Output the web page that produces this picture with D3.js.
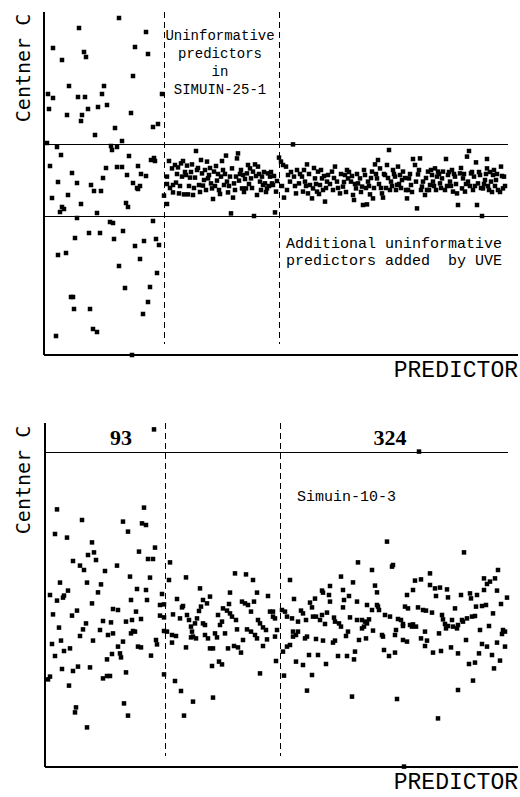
<!DOCTYPE html>
<html>
<head>
<meta charset="utf-8">
<script src="https://cdn.jsdelivr.net/npm/d3@7/dist/d3.min.js"></script>
<style>
	body { margin: 0; background: #fff; }
	text { fill: #000; }
	line { shape-rendering: crispEdges; }
</style>
</head>
<body>
<svg id="chart" width="520" height="797"></svg>
<script>

// predictor index vs Centner c (arbitrary units)

// SIMUIN-25-1 : informative predictors
var topInformative = [[3,18.5],[4,43],[5,35.5],[6,7],[8,-9],[9,66],[9,41],[12,-78],[13,16.5],[14,-1],[14,-37.5],[16,-16],[17,12.5],[18,60],[18,-13.5],[20,-14.5],[22,-36.5],[23,32.5],[24,-7.5],[25,47],[27,-58.5],[28,3.5],[29,-58.5],[30,-64.5],[31,-29],[33,-1.5],[33,-19],[34,41.5],[35,76],[37,-12],[37,29.5],[38,32.5],[40,64],[41,41.5],[42,61.5],[44,35.5],[45,-26.5],[46,-64.5],[47,-2.5],[49,-74.5],[50,-5.5],[51,22.5],[53,-16.5],[53,-76],[54,36.5],[56,-26.5],[57,-5.5],[58,43],[59,1],[60,47],[62,6],[63,37.5],[66,-21],[67,17],[68,15],[69,-21.5],[70,-29.5],[71,26],[73,16.5],[73,6.5],[75,81],[75,-43],[78,19.5],[78,6.5],[79,-25.5],[81,-54],[82,-11.5],[83,2.5],[84,-13.5],[85,12],[87,33.5],[88,-87.5],[89,52],[89,-1.5],[91,66.5],[91,-33],[93,-4],[94,7],[94,-4.5],[96,-3],[96,-39.5],[97,3],[99,-67],[100,-30.5],[102,74],[102,2],[104,63],[104,-61],[106,-53.5],[107,10],[109,26.5],[109,-20.5],[110,11],[111,9.5],[112,-29.5],[113,-46.5],[114,28],[115,-32.5],[118,43]];

// SIMUIN-25-1 : uninformative predictors
var topUninformative = [[120,-7.8],[123,-12],[123,1.7],[123,-2],[125,9.5],[128,5.8],[129,-2.5],[129,-6.2],[131,7.5],[132,-1.3],[134,6.3],[135,-6.7],[137,8.3],[138,1.7],[139,9.5],[140,-7.2],[142,2.5],[143,7.2],[144,-7.2],[146,1.2],[148,7.8],[149,-7.5],[151,1.2],[152,14.5],[153,5],[155,-2.5],[157,10],[158,3.3],[159,-2.8],[161,5],[163,9.2],[164,0.8],[165,2.5],[167,-1.7],[168,-4.2],[169,-9.5],[170,4.2],[172,7],[173,-0.3],[175,-5],[177,1.7],[178,9.5],[179,5],[180,-2.5],[182,12.2],[183,-0.8],[184,-6.2],[186,1.7],[187,-16.7],[188,5.8],[189,-8.8],[190,-1.7],[192,1.7],[193,10.8],[194,13.3],[195,-0.3],[197,5],[198,-4.2],[199,2.5],[201,0.5],[202,-4.2],[203,3.3],[204,7.5],[206,5.8],[207,0.8],[209,4.2],[210,-18],[211,7.8],[213,-7.5],[214,6.7],[216,-0.8],[218,1.7],[219,-2.5],[221,-1.7],[223,-4.2],[224,3.3],[226,1.7],[228,-1.7],[229,-2.5],[231,-16.2],[232,-5.8],[233,-0.5],
	[126,-4],[133,3],[136,-3],[141,4],[145,-3],[147,4],[150,-4],[154,6],[156,-6],[160,0],[162,-5],[166,6],[171,-3],[174,3],[176,-7],[181,3],[185,-3],[191,-5],[196,3],[200,-6],[205,-2],[208,-4],[212,2],[215,3],[217,-5],[220,4],[222,-6],[225,-3],[227,4],[230,2]];

// SIMUIN-25-1 : added by UVE
var topAdded = [[235,11.2],[237,9.2],[239,7.5],[240,-8.8],[242,6.7],[244,2.5],[246,-0.8],[249,17.8],[250,1.7],[252,-6.7],[253,5],[255,-1.7],[258,1.7],[259,-5.8],[261,-0.8],[263,7.8],[264,-6.7],[266,-2.5],[268,-9.2],[269,-4.2],[271,0.8],[273,-5.8],[274,4.2],[276,-2.5],[278,0.8],[279,-5],[281,-10.8],[283,-0.8],[284,2.5],
	[288,4.2],[289,-5],[291,6.7],[293,-0.8],[296,-6.7],[299,-3.3],[301,2.5],[303,5],[304,0.8],[307,-0.8],[309,-7.5],[310,-10],[312,-4.2],[314,-1.7],[316,0.8],[318,-3.3],[319,-12.5],[321,2.5],[323,-12.2],[324,-0.8],[326,-7.2],[328,4.2],[329,-9.2],[331,7.8],[333,0.8],[334,10],[336,5.8],[338,-6.7],[339,-8.8],[341,2.5],[343,7.5],[345,15],[347,-0.8],[349,5],[351,1.7],[353,-2.5],[354,6.7],[356,2.5],[358,0],[359,4.2],[362,-5],[363,-9.2],[365,0.8],[367,-2.5],[369,10.5],[371,7.5],[372,-0.8],[373,-14.2],[374,2.8],[376,10.8],[378,-3.3],[379,-0.8],[381,-7.5],[383,-5],[384,4.2],[386,-2.5],[388,2.5],[389,-0.8],[391,5.8],[393,1.7],[394,4.2],[396,-1.7],[398,0.8],[399,4.2],[401,-5],[402,10.5],[404,2.5],[406,-0.8],[408,5],[409,-5.8],[411,1.7],[413,-6.7],[414,-12.5],[416,3.3],[418,-4.2],[419,0.8],[421,-5.8],[423,11.7],[424,-0.8],[425,14.5],[427,3.3],[429,-5],[430,1.7],[432,8.8],[433,-12.5],[434,-1.7],[436,2.5],[438,-18],[439,-4.2],[441,0],[443,10.5],[443,5.8],[445,-5],[447,-0.8],[449,2.5],[450,5],[452,0],[454,-5],[457,6.7],[459,-4.2],[460,1.7],
	[238,-3],[243,-5],[247,4],[251,-3],[256,3],[260,5],[262,-3],[265,3],[270,6],[272,-2],[275,-7],[277,5],[280,2],[282,-4],[286,-2],[290,1],[294,-4],[297,3],[300,-1],[302,-6],[305,4],[308,2],[311,-2],[313,3],[317,-6],[320,5],[322,-4],[325,-3],[327,1],[330,-4],[332,3],[335,-2],[337,-4],[340,3],[342,-4],[344,1],[346,-5],[348,-3],[350,3],[352,-5],[355,-2],[357,-4],[361,1],[364,-5],[366,3],[368,-6],[375,5],[377,-5],[382,1],[385,-5],[387,5],[390,-3],[392,-5],[395,3],[397,-4],[403,-3],[405,4],[407,-3],[410,3],[412,-2],[417,6],[420,3],[422,-2],[426,-3],[428,4],[431,-3],[435,4],[437,-4],[440,-2],[442,3],[444,-3],[446,4],[448,-6],[451,-3],[453,3],[456,-6],[458,2],[461,-3]];

// Simuin-10-3 : three predictor groups
var bottomInformative = [[109,100.3],[12,60.3],[99,61.2],[37,55],[78,54.2],[97,53.3],[101,52.5],[10,48],[22,46.2],[83,49.2],[47,43.8],[110,41.2],[49,38.8],[43,37.5],[94,39.2],[28,34.5],[51,35],[103,35.5],[108,35.5],[35,32.2],[39,30],[72,32.2],[60,29.5],[15,23.7],[42,23.7],[56,22.8],[85,26.7],[105,26.2],[23,19.7],[19,17.2],[18,16.2],[5,17.5],[12,14.7],[92,20.5],[101,20],[53,18.8],[86,15],[102,15],[117,18],[47,13.3],[68,10.5],[73,10],[32,9.7],[27,7.2],[8,7.8],[91,9.2],[115,12.5],[119,12.8],[115,7.2],[119,6.3],[41,3.3],[58,4.5],[66,3.8],[81,4.2],[87,5],[96,5.5],[14,1.2],[38,0.3],[55,0],[63,-2.5],[68,-1.7],[86,-1.7],[88,-0.5],[90,-0.8],[119,-0.5],[35,-3],[7,-7],[16,-5.3],[48,-5.3],[78,-5.8],[111,-5],[112,-7.2],[19,-10.5],[25,-9.2],[10,-13],[93,-8.3],[96,-8.7],[73,-8.3],[67,-12],[62,-14.7],[75,-11.7],[76,-13.7],[106,-12.8],[17,-19.5],[28,-20.5],[33,-18.3],[45,-18.7],[81,-21.2],[62,-23],[65,-23],[58,-24.2],[119,-22.2],[5,-23.3],[3,-24.7],[24,-27.8],[31,-38.7],[30,-41.2],[79,-36.7],[83,-42.8],[42,-48.7]];

var bottomUninformative = [[125,33.8],[124,25],[141,26.3],[155,20.8],[132,15.5],[137,11.3],[138,12],[158,15],[165,16.7],[162,13.3],[128,7.8],[135,5.8],[142,7.5],[144,5],[146,1.7],[147,-0.8],[146,-3.7],[150,3.3],[152,5.8],[154,9.5],[156,11.7],[158,3.3],[160,2.5],[173,7.5],[178,10.8],[182,9.7],[185,8.3],[185,18.7],[184,13],[187,6.7],[190,28.3],[201,27.8],[208,25],[197,14.2],[200,13.3],[203,12.5],[209,14.2],[206,9.2],[212,18.7],[223,17],[191,5],[177,4.2],[175,2.5],[170,-1.7],[172,-3.7],[180,-1.7],[163,-4.2],[168,-9.2],[160,-2.5],[122,-0.8],[127,-2.5],[131,-3],[127,-6.3],[141,-8.7],[148,-3.3],[151,-4.2],[165,-9.2],[183,-9.2],[189,-8],[193,-8.7],[196,-11.3],[192,0.3],[198,-5],[202,0.3],[206,-0.8],[210,-2.5],[212,-4.2],[213,5],[215,3.3],[218,1.3],[221,0],[218,-8],[222,-4.7],[225,9.2],[228,6.7],[228,9.2],[230,5.8],[230,-3.3],[232,0],[215,-21.7],[167,-18],[174,-15.8],[177,-17.2],[130,-25.5],[136,-30.5],[148,-35.8],[168,-33.8],[139,-42.8],[231,-15.5]];

var bottomAdded = [[245,25],[239,-22.8],[342,44.2],[313,33.8],[327,30],[347,31.7],[348,32.5],[296,26.7],[308,23.8],[285,22],[330,22.2],[332,18.8],[277,19.7],[278,18.7],[284,17.5],[298,20],[299,15],[304,17],[249,15.5],[265,13.7],[270,15.7],[267,11.3],[285,14.2],[312,14.2],[322,12.5],[327,10],[332,12.5],[333,11.7],[334,10],[298,11.3],[237,10],[240,9.2],[242,6.7],[247,5.8],[256,9.7],[258,8.3],[268,6.7],[271,6.7],[275,5],[277,7.5],[282,8.7],[289,6.2],[290,4.2],[280,3],[253,4.2],[261,5],[305,6.3],[312,5],[317,5],[320,4.2],[322,3.3],[317,0.8],[319,1.7],[324,5.3],[340,7.5],[345,6.7],[353,5.5],[294,3.3],[296,1.7],[303,-0.8],[301,-3],[328,-0.3],[337,-2.5],[338,-3.3],[350,-2.5],[248,-0.8],[253,-0.8],[251,-2.5],[248,-3.3],[260,-4.2],[262,-3.3],[271,-4.5],[278,-5.3],[288,-6.3],[290,-5.3],[314,-5],[321,-4.2],[242,-8.3],[245,-7.5],[238,-10.8],[339,-10],[344,-13],[350,-11.3],[310,-10.8],[309,-14.7],[293,-13],[302,-13],[264,-12.5],[273,-12.5],[251,-15.8],[258,-17.5],[281,-17],[267,-22.5],[262,-30.3],[307,-33.3],[352,-34.5],
	[419,38.8],[385,28.3],[370,24.7],[376,25.3],[453,30],[439,25.8],[442,23],[445,24.2],[450,25.8],[385,22.5],[390,20.8],[395,21.2],[402,20.3],[368,20],[439,20],[452,19.7],[362,17.5],[391,17],[403,16.3],[416,17.5],[425,18.3],[426,15.8],[432,17.5],[462,16.2],[456,13],[431,11.7],[437,12],[441,12.5],[410,10.8],[360,11.7],[363,10.8],[373,11.3],[378,10],[381,9.7],[387,8.7],[397,7.5],[448,8.3],[356,5],[358,3],[358,2],[365,2.5],[368,2.8],[371,1.7],[367,1.7],[351,0],[380,-0.8],[398,5.3],[400,3],[401,0.8],[403,2],[407,5],[408,1.7],[412,0.8],[413,2.5],[417,5],[418,4.2],[422,5.8],[427,6.7],[430,7],[435,0],[444,2],[458,0],[460,-0.8],[457,-2],[394,-1.7],[376,-4.2],[382,-5.3],[380,-8],[358,-5],[362,-5.8],[421,-5],[437,-7],[442,-8.3],[452,-6.3],[460,-8.3],[388,-11.3],[396,-10.5],[406,-8.7],[413,-11.7],[434,-11.7],[447,-12.5],[455,-15.3],[424,-17],[430,-16.3],[449,-19.2],[428,-25.3],[413,-30],[393,-44.2],[374,89.2],[359,-68.3]];

var topCutoffs = [-18, 18];
var bottomCutoffs = [89];
var regionBreaks = [120, 235];
var groupCounts = ['93', '324'];
var groupCountX = [76, 345];

var topNote = ['Uninformative', 'predictors', 'in', 'SIMUIN-25-1'];
var addedNote = ['Additional uninformative', 'predictors added  by UVE'];
var bottomNote = 'Simuin-10-3';


function drawPanel(svg, p){

	console.log('drawPanel', p.name);

	var x = d3.scaleLinear().domain(p.xDomain).range([p.left, p.right]);
	var y = d3.scaleLinear().domain(p.yDomain).range([p.bottom, p.top]);

	var g = svg.append('g').attr('class', p.name);

	// cutoff lines
	g.selectAll('.cutoff')
		.data(p.cutoffs)
		.enter().append('line')
		.attr('class', 'cutoff')
		.attr('x1', p.left).attr('x2', p.right)
		.attr('y1', function(d){ return y(d); })
		.attr('y2', function(d){ return y(d); })
		.attr('stroke', '#000')
		.attr('stroke-width', 1);

	// group boundaries
	g.selectAll('.break')
		.data(regionBreaks)
		.enter().append('line')
		.attr('class', 'break')
		.attr('x1', function(d){ return x(d); })
		.attr('x2', function(d){ return x(d); })
		.attr('y1', p.top)
		.attr('y2', p.bottom - 11)
		.attr('stroke', '#000')
		.attr('stroke-width', 1)
		.attr('stroke-dasharray', '6,4');

	// axes, no ticks
	g.append('line')
		.attr('x1', p.left).attr('x2', p.left)
		.attr('y1', p.top).attr('y2', p.bottom)
		.attr('stroke', '#000').attr('stroke-width', 2);

	g.append('line')
		.attr('x1', p.left).attr('x2', 518)
		.attr('y1', p.bottom).attr('y2', p.bottom)
		.attr('stroke', '#000').attr('stroke-width', 2);

	var size = 4.5;

	g.selectAll('.pt')
		.data(p.points)
		.enter().append('rect')
		.attr('class', 'pt')
		.attr('x', function(d){ return x(d[0]) - size / 2; })
		.attr('y', function(d){ return y(d[1]) - size / 2; })
		.attr('width', size)
		.attr('height', size)
		.attr('fill', '#000');

	g.append('text')
		.attr('transform', 'translate(30,' + p.labelY + ') rotate(-90)')
		.attr('text-anchor', 'middle')
		.style('font-family', '"DejaVu Sans Mono", monospace')
		.style('font-size', '20px')
		.text('Centner C');

	g.append('text')
		.attr('x', 518)
		.attr('y', p.bottom + 22)
		.attr('text-anchor', 'end')
		.style('font-family', '"Liberation Mono", monospace')
		.style('font-size', '23px')
		.text('PREDICTOR');

	return { x: x, y: y, g: g };
}


var svg = d3.select('#chart');

var upper = drawPanel(svg, {
	name: 'upper',
	points: topInformative.concat(topUninformative, topAdded),
	cutoffs: topCutoffs,
	xDomain: [0, 464], yDomain: [-87.5, 84],
	left: 44, right: 508, top: 12, bottom: 355,
	labelY: 68
});

var lower = drawPanel(svg, {
	name: 'lower',
	points: bottomInformative.concat(bottomUninformative, bottomAdded),
	cutoffs: bottomCutoffs,
	xDomain: [0, 463], yDomain: [-68.5, 103.5],
	left: 45, right: 508, top: 423, bottom: 767,
	labelY: 480
});

// notes on the upper panel
upper.g.selectAll('.note')
	.data(topNote)
	.enter().append('text')
	.attr('class', 'note')
	.attr('x', 220)
	.attr('y', function(d, i){ return 40 + i * 18; })
	.attr('text-anchor', 'middle')
	.style('font-family', '"Liberation Mono", monospace')
	.style('font-size', '14px')
	.text(function(d){ return d; });

upper.g.selectAll('.added')
	.data(addedNote)
	.enter().append('text')
	.attr('class', 'added')
	.attr('x', 286)
	.attr('y', function(d, i){ return 248 + i * 17; })
	.style('font-family', '"Liberation Mono", monospace')
	.style('font-size', '15px')
	.style('white-space', 'pre')
	.attr('xml:space', 'preserve')
	.text(function(d){ return d; });

// group sizes above the cutoff line
lower.g.selectAll('.count')
	.data(groupCounts)
	.enter().append('text')
	.attr('class', 'count')
	.attr('x', function(d, i){ return lower.x(groupCountX[i]); })
	.attr('y', 445)
	.attr('text-anchor', 'middle')
	.style('font-family', '"Liberation Serif", serif')
	.style('font-weight', 'bold')
	.style('font-size', '22px')
	.text(function(d){ return d; });

lower.g.append('text')
	.attr('x', 297)
	.attr('y', 501)
	.style('font-family', '"Liberation Mono", monospace')
	.style('font-size', '15px')
	.text(bottomNote);

</script>
</body>
</html>
